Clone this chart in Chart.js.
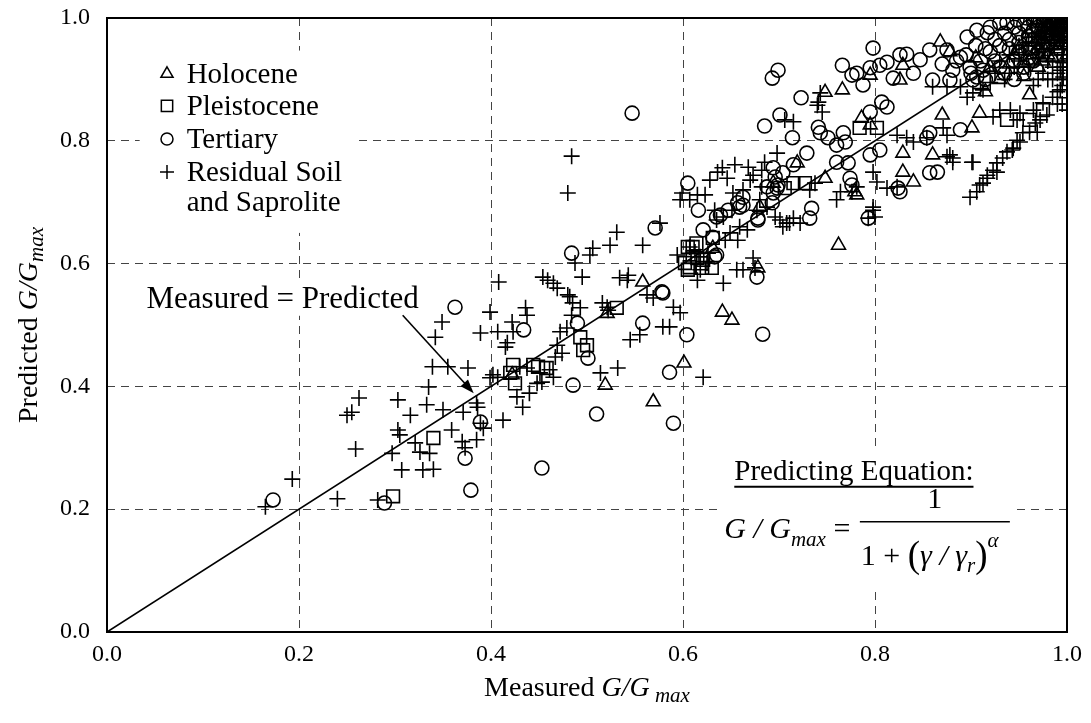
<!DOCTYPE html>
<html>
<head>
<meta charset="utf-8">
<script src="https://cdn.jsdelivr.net/npm/chart.js@4.4.1/dist/chart.umd.min.js"></script>
<style>
  html, body { margin: 0; padding: 0; background: #fff; }
  #wrap { width: 1091px; height: 723px; }
</style>
</head>
<body>
<div id="wrap"><canvas id="grafico" width="1091" height="723"></canvas></div>
<script>
// Dados (Measured G/Gmax, Predicted G/Gmax)

const ticksEixo = [0, 0.2, 0.4, 0.6, 0.8, 1.0];

const holocene = [
  [0.422, 0.419], [0.521, 0.519], [0.558, 0.57], [0.631, 0.625], [0.678, 0.593],
  [0.641, 0.521], [0.651, 0.508], [0.601, 0.438], [0.519, 0.402], [0.569, 0.375],
  [0.68, 0.692], [0.694, 0.731], [0.748, 0.879], [0.766, 0.883], [0.829, 0.923],
  [0.786, 0.837], [0.795, 0.826], [0.87, 0.842], [0.901, 0.821], [0.909, 0.845],
  [0.829, 0.78], [0.86, 0.777], [0.829, 0.749], [0.84, 0.733], [0.781, 0.712],
  [0.748, 0.739], [0.961, 0.875], [0.762, 0.63], [0.868, 0.961], [0.878, 0.945],
  [0.826, 0.899], [0.795, 0.907], [0.779, 0.717], [0.719, 0.764],
  [0.96, 0.93], [0.97, 0.95], [0.975, 0.965], [0.98, 0.97], [0.985, 0.98],
  [0.99, 0.985], [0.995, 0.99], [1.0, 0.995], [0.99, 0.97], [0.995, 0.96],
  [0.98, 0.94], [0.97, 0.92], [0.99, 0.95], [1.0, 0.975], [0.985, 0.955],
  [0.93, 0.9], [0.94, 0.925], [0.915, 0.88], [0.955, 0.905],
  [0.95, 0.95], [0.96, 0.975], [0.975, 0.985], [0.99, 1.0], [1.0, 0.985],
  [0.965, 0.94], [0.975, 0.93], [0.985, 0.935], [1.0, 0.94], [0.945, 0.94],
  [0.92, 0.92], [0.905, 0.935],
];

const pleistocene = [
  [0.298, 0.221], [0.34, 0.316], [0.423, 0.435], [0.42, 0.422], [0.425, 0.405],
  [0.444, 0.435], [0.449, 0.432], [0.458, 0.43], [0.493, 0.48], [0.5, 0.467],
  [0.496, 0.459], [0.531, 0.528], [0.615, 0.609], [0.61, 0.627], [0.607, 0.594],
  [0.62, 0.593], [0.63, 0.593], [0.605, 0.627], [0.614, 0.633], [0.61, 0.611],
  [0.602, 0.601], [0.621, 0.606], [0.631, 0.642], [0.605, 0.59],
  [0.784, 0.821], [0.802, 0.821], [0.715, 0.731], [0.727, 0.731], [0.706, 0.723],
  [0.9375, 0.834], [0.961, 0.834], [0.975, 0.85],
  [0.98, 0.96], [0.985, 0.975], [0.99, 0.98], [0.995, 0.985], [1.0, 1.0],
  [0.99, 0.995], [0.995, 1.0], [0.975, 0.97], [0.97, 0.965], [1.0, 0.97],
  [1.0, 0.96], [0.99, 0.95], [0.965, 0.95],
  [0.985, 0.99], [0.995, 0.975], [1.0, 0.985], [0.98, 0.98], [0.99, 0.965],
  [0.975, 0.955], [0.96, 0.965], [0.97, 0.98],
];

const tertiary = [
  [0.173, 0.215], [0.289, 0.21], [0.3625, 0.529], [0.373, 0.283], [0.389, 0.342],
  [0.379, 0.231], [0.434, 0.492], [0.453, 0.267], [0.484, 0.617], [0.49, 0.503],
  [0.501, 0.446], [0.4855, 0.402], [0.51, 0.355], [0.571, 0.658], [0.579, 0.552],
  [0.558, 0.503], [0.604, 0.484], [0.633, 0.611], [0.677, 0.578], [0.683, 0.485],
  [0.586, 0.423], [0.59, 0.34], [0.547, 0.845], [0.605, 0.731], [0.616, 0.687],
  [0.639, 0.679], [0.647, 0.687], [0.657, 0.699], [0.6625, 0.695], [0.694, 0.715],
  [0.698, 0.723], [0.693, 0.699], [0.6875, 0.725], [0.678, 0.671], [0.621, 0.655],
  [0.631, 0.643], [0.635, 0.614], [0.578, 0.554], [0.694, 0.756], [0.704, 0.748],
  [0.715, 0.761], [0.685, 0.824], [0.701, 0.842], [0.714, 0.805], [0.693, 0.902],
  [0.699, 0.915], [0.798, 0.951], [0.766, 0.923], [0.776, 0.907], [0.781, 0.91],
  [0.795, 0.919], [0.805, 0.923], [0.8125, 0.928], [0.833, 0.941], [0.7875, 0.891],
  [0.819, 0.902], [0.723, 0.87], [0.741, 0.822], [0.743, 0.813], [0.751, 0.805],
  [0.767, 0.813], [0.769, 0.798], [0.76, 0.793], [0.795, 0.847], [0.889, 0.818],
  [0.854, 0.805], [0.805, 0.785], [0.795, 0.777], [0.772, 0.764], [0.76, 0.765],
  [0.857, 0.748], [0.865, 0.749], [0.824, 0.723], [0.793, 0.674], [0.774, 0.739],
  [0.734, 0.69], [0.732, 0.674], [0.826, 0.94], [0.807, 0.863], [0.8125, 0.855],
  [0.857, 0.813], [0.826, 0.717], [0.729, 0.78], [0.696, 0.741], [0.699, 0.728],
  [0.776, 0.728], [0.659, 0.692], [0.635, 0.676], [0.6625, 0.708], [0.678, 0.674],
  [0.857, 0.948], [0.896, 0.969], [0.906, 0.98], [0.917, 0.976], [0.92, 0.985],
  [0.93, 0.992], [0.9375, 0.992], [0.948, 0.997], [0.958, 1.0], [0.965, 1.0],
  [0.875, 0.948], [0.889, 0.936], [0.899, 0.92], [0.881, 0.915], [0.906, 0.904],
  [0.9125, 0.915], [0.84, 0.91], [0.847, 0.932], [0.86, 0.899], [0.878, 0.899],
  [0.902, 0.899],
  [0.94, 0.95], [0.95, 0.96], [0.96, 0.97], [0.965, 0.98], [0.97, 0.985],
  [0.975, 0.99], [0.98, 0.995], [0.985, 0.99], [0.99, 1.0], [0.995, 0.995],
  [0.98, 0.975], [0.97, 0.96], [0.96, 0.95], [0.985, 0.97], [0.99, 0.985],
  [0.995, 0.975], [1.0, 0.99], [0.975, 0.94], [0.965, 0.93], [0.955, 0.92],
  [0.945, 0.93], [0.935, 0.91], [0.99, 0.96], [0.98, 0.95], [0.925, 0.93],
  [0.92, 0.945], [0.93, 0.955], [0.95, 0.975], [0.96, 0.985], [0.97, 0.995],
  [0.985, 1.0],
  [0.91, 0.93], [0.915, 0.95], [0.925, 0.965], [0.935, 0.975], [0.945, 0.985],
  [0.955, 0.99], [0.965, 0.995], [0.975, 1.0], [0.94, 0.965], [0.95, 0.945],
  [0.96, 0.935], [0.97, 0.945], [0.975, 0.955], [0.985, 0.96], [0.99, 0.975],
  [1.0, 0.97], [1.0, 1.0], [0.995, 0.985], [0.905, 0.955], [0.895, 0.94],
  [0.885, 0.93], [0.87, 0.925], [0.9, 0.91], [0.915, 0.9], [0.93, 0.92],
  [0.945, 0.9], [0.955, 0.91], [0.965, 0.965], [0.98, 0.985], [0.99, 0.99],
];

const residual = [
  [0.165, 0.204], [0.193, 0.249], [0.24, 0.217], [0.282, 0.215], [0.259, 0.298],
  [0.25, 0.353], [0.255, 0.358], [0.2625, 0.381], [0.297, 0.291], [0.303, 0.329],
  [0.305, 0.321], [0.303, 0.378], [0.307, 0.264], [0.316, 0.353], [0.321, 0.308],
  [0.326, 0.293], [0.329, 0.264], [0.333, 0.37], [0.335, 0.399], [0.336, 0.291],
  [0.34, 0.265], [0.339, 0.432], [0.342, 0.48], [0.349, 0.505], [0.35, 0.362],
  [0.355, 0.432], [0.359, 0.329], [0.37, 0.31], [0.371, 0.358], [0.373, 0.3],
  [0.376, 0.43], [0.385, 0.313], [0.385, 0.373], [0.386, 0.366], [0.389, 0.34],
  [0.392, 0.332], [0.389, 0.487], [0.399, 0.521], [0.407, 0.489], [0.408, 0.57],
  [0.402, 0.419], [0.407, 0.415], [0.399, 0.414], [0.4125, 0.345], [0.422, 0.505],
  [0.423, 0.489], [0.417, 0.471], [0.436, 0.528], [0.4375, 0.516], [0.43, 0.432],
  [0.4375, 0.43], [0.451, 0.422], [0.461, 0.427], [0.465, 0.415], [0.427, 0.383],
  [0.433, 0.366], [0.44, 0.389], [0.448, 0.405], [0.453, 0.407], [0.467, 0.448],
  [0.474, 0.454], [0.472, 0.489], [0.479, 0.495], [0.484, 0.516], [0.485, 0.536],
  [0.482, 0.546], [0.465, 0.568], [0.459, 0.573], [0.454, 0.578], [0.495, 0.578],
  [0.503, 0.614], [0.48, 0.715], [0.484, 0.775], [0.576, 0.666], [0.531, 0.651],
  [0.524, 0.63], [0.506, 0.625], [0.558, 0.63], [0.4875, 0.601], [0.469, 0.56],
  [0.48, 0.549], [0.493, 0.528], [0.415, 0.464], [0.469, 0.467], [0.516, 0.536],
  [0.521, 0.529], [0.522, 0.524], [0.542, 0.573], [0.534, 0.577], [0.543, 0.581],
  [0.5625, 0.549], [0.569, 0.544], [0.59, 0.529], [0.597, 0.52], [0.579, 0.497],
  [0.586, 0.497], [0.555, 0.484], [0.545, 0.476], [0.621, 0.415], [0.532, 0.43],
  [0.514, 0.422], [0.641, 0.756], [0.636, 0.749], [0.654, 0.761], [0.646, 0.739],
  [0.628, 0.736], [0.599, 0.715], [0.597, 0.704], [0.615, 0.712], [0.623, 0.712],
  [0.607, 0.704], [0.652, 0.715], [0.6625, 0.72], [0.67, 0.736], [0.673, 0.744],
  [0.682, 0.725], [0.633, 0.687], [0.635, 0.671], [0.642, 0.676], [0.651, 0.687],
  [0.68, 0.704], [0.677, 0.687], [0.6875, 0.692], [0.701, 0.671], [0.704, 0.66],
  [0.711, 0.666], [0.696, 0.676], [0.659, 0.66], [0.667, 0.655], [0.649, 0.65],
  [0.644, 0.638], [0.657, 0.638], [0.607, 0.627], [0.594, 0.614], [0.6125, 0.619],
  [0.618, 0.611], [0.626, 0.617], [0.618, 0.59], [0.625, 0.601], [0.642, 0.568],
  [0.615, 0.573], [0.656, 0.59], [0.6625, 0.59], [0.673, 0.609], [0.675, 0.593],
  [0.706, 0.834], [0.715, 0.831], [0.698, 0.78], [0.685, 0.765], [0.743, 0.878],
  [0.74, 0.858], [0.745, 0.847], [0.668, 0.757], [0.682, 0.752], [0.741, 0.863],
  [0.732, 0.72], [0.7375, 0.731], [0.76, 0.704], [0.764, 0.717], [0.781, 0.725],
  [0.776, 0.717], [0.798, 0.687], [0.8, 0.676], [0.708, 0.666], [0.715, 0.674],
  [0.722, 0.666],
  [0.871, 0.821], [0.875, 0.809], [0.854, 0.805], [0.84, 0.798], [0.833, 0.805],
  [0.823, 0.809], [0.878, 0.777], [0.881, 0.765], [0.902, 0.765], [0.798, 0.749],
  [0.802, 0.733], [0.8125, 0.723], [0.823, 0.725], [0.798, 0.692], [0.793, 0.674],
  [0.86, 0.888], [0.875, 0.888], [0.889, 0.888], [0.896, 0.871], [0.902, 0.878],
  [0.9125, 0.883], [0.923, 0.839], [0.93, 0.85], [0.941, 0.85], [0.948, 0.834],
  [0.951, 0.845], [0.965, 0.85], [0.975, 0.862], [0.985, 0.871], [0.993, 0.883],
  [0.996, 0.904], [0.996, 0.927], [0.993, 0.915],
  [0.899, 0.708], [0.909, 0.728], [0.917, 0.744], [0.927, 0.749], [0.933, 0.772],
  [0.9375, 0.782], [0.944, 0.788], [0.951, 0.798], [0.961, 0.814], [0.969, 0.814],
  [0.979, 0.842], [0.906, 0.717], [0.9125, 0.731], [0.923, 0.752], [0.927, 0.764],
  [0.943, 0.785], [0.948, 0.801], [0.954, 0.813], [0.967, 0.829], [0.972, 0.834],
  [0.901, 0.765], [0.917, 0.739], [0.881, 0.772], [0.875, 0.774],
  [0.99, 0.93], [0.995, 0.94], [1.0, 0.95], [0.985, 0.92], [0.99, 0.91],
  [1.0, 0.9], [0.995, 0.89], [0.99, 0.88], [1.0, 0.92], [0.98, 0.9],
  [0.975, 0.91], [0.97, 0.9], [0.965, 0.89], [0.995, 0.97], [1.0, 0.98],
  [0.99, 0.99], [0.98, 0.985], [0.975, 0.975], [0.96, 0.96], [0.955, 0.94],
  [0.95, 0.93], [0.945, 0.92], [0.94, 0.91], [0.935, 0.9],
  [1.0, 0.93], [1.0, 0.96], [1.0, 0.99], [0.995, 0.95], [0.995, 0.92],
  [0.995, 0.9], [1.0, 0.87], [0.995, 0.86], [1.0, 0.85], [0.99, 0.86],
  [0.985, 0.9], [0.98, 0.93], [0.975, 0.95], [0.97, 0.935], [0.96, 0.92],
  [0.985, 0.995], [0.99, 0.97], [0.97, 0.97], [0.95, 0.955], [0.94, 0.94],
  [0.93, 0.93], [0.925, 0.91], [0.92, 0.895], [0.91, 0.885],
];

// Linha Measured = Predicted
const linhaIgual = [[0, 0], [1, 1]];

const FONTE = "'Liberation Serif', 'Times New Roman', serif";

function paraPontos(lista) {
  return lista.map((p) => ({ x: p[0], y: p[1] }));
}

// desenha pedaços de texto com fontes diferentes numa linha
function desenharTrechos(ctx, trechos, x, y, alinhar) {
  let total = 0;
  trechos.forEach((t) => {
    ctx.font = `${t.estilo || "normal"} ${t.tam}px ${FONTE}`;
    t.w = ctx.measureText(t.txt).width;
    total += t.w;
  });
  let cx = alinhar == "center" ? x - total / 2 : x;
  ctx.textAlign = "left";
  ctx.textBaseline = "alphabetic";
  trechos.forEach((t) => {
    ctx.font = `${t.estilo || "normal"} ${t.tam}px ${FONTE}`;
    ctx.fillText(t.txt, cx, y + (t.dy || 0));
    cx += t.w;
  });
  return total;
}

const anotacoes = {
  id: "anotacoes",
  beforeDatasetsDraw(chart) {
    const { ctx, scales } = chart;
    const sx = scales.x, sy = scales.y;
    ctx.save();
    ctx.fillStyle = "#fff";
    // caixas brancas atrás dos textos (cortam a grade)
    const caixas = [
      [0.034, 0.947, 0.258, 0.65],
      [0.04, 0.57, 0.325, 0.515],
      [0.636, 0.3, 0.943, 0.07],
    ];
    caixas.forEach((c) => {
      const x1 = sx.getPixelForValue(c[0]);
      const y1 = sy.getPixelForValue(c[1]);
      const x2 = sx.getPixelForValue(c[2]);
      const y2 = sy.getPixelForValue(c[3]);
      ctx.fillRect(x1, y1, x2 - x1, y2 - y1);
    });
    ctx.restore();
  },
  afterDatasetsDraw(chart) {
    const { ctx, chartArea, scales } = chart;
    const sx = scales.x, sy = scales.y;
    ctx.save();
    ctx.fillStyle = "#000";
    ctx.strokeStyle = "#000";

    // moldura
    ctx.lineWidth = 2;
    ctx.strokeRect(chartArea.left, chartArea.top, chartArea.right - chartArea.left, chartArea.bottom - chartArea.top);

    // legenda
    const legenda = [
      ["triangle", "Holocene", 0.909, 7],
      ["rect", "Pleistocene", 0.857, 8],
      ["circle", "Tertiary", 0.803, 6],
      ["cross", "Residual Soil", 0.749, 7],
    ];
    const lx = sx.getPixelForValue(0.0625);
    const tx = sx.getPixelForValue(0.083);
    legenda.forEach((l) => {
      const ly = sy.getPixelForValue(l[2]);
      ctx.save();
      ctx.fillStyle = "rgba(0,0,0,0)";
      ctx.lineWidth = 1.5;
      Chart.helpers.drawPoint(ctx, { pointStyle: l[0], radius: l[3], rotation: 0, borderWidth: 1.5 }, lx, ly);
      ctx.restore();
      ctx.font = `29px ${FONTE}`;
      ctx.textAlign = "left";
      ctx.textBaseline = "alphabetic";
      ctx.fillText(l[1], tx, ly + 9);
    });
    ctx.fillText("and Saprolite", tx, sy.getPixelForValue(0.7) + 9);

    // rótulo e seta
    ctx.font = `31px ${FONTE}`;
    ctx.textAlign = "center";
    ctx.fillText("Measured = Predicted", sx.getPixelForValue(0.183), sy.getPixelForValue(0.528));
    const ax1 = sx.getPixelForValue(0.308), ay1 = sy.getPixelForValue(0.516);
    const ax2 = sx.getPixelForValue(0.382), ay2 = sy.getPixelForValue(0.389);
    const ang = Math.atan2(ay2 - ay1, ax2 - ax1);
    ctx.lineWidth = 1.6;
    ctx.beginPath();
    ctx.moveTo(ax1, ay1);
    ctx.lineTo(ax2 - 10 * Math.cos(ang), ay2 - 10 * Math.sin(ang));
    ctx.stroke();
    ctx.beginPath();
    ctx.moveTo(ax2, ay2);
    ctx.lineTo(ax2 - 14 * Math.cos(ang) + 5 * Math.sin(ang), ay2 - 14 * Math.sin(ang) - 5 * Math.cos(ang));
    ctx.lineTo(ax2 - 14 * Math.cos(ang) - 5 * Math.sin(ang), ay2 - 14 * Math.sin(ang) + 5 * Math.cos(ang));
    ctx.closePath();
    ctx.fill();

    // equação
    const ex = sx.getPixelForValue(0.643);
    const ey = sy.getPixelForValue(0.248);
    ctx.font = `29px ${FONTE}`;
    ctx.textAlign = "left";
    ctx.fillText("Predicting Equation:", ex + 10, ey);
    const wTit = ctx.measureText("Predicting Equation:").width;
    ctx.lineWidth = 2;
    ctx.beginPath();
    ctx.moveTo(ex + 10, ey + 7);
    ctx.lineTo(ex + 10 + wTit, ey + 7);
    ctx.stroke();

    const eqy = ey + 58;
    let w = desenharTrechos(ctx, [
      { txt: "G / G", estilo: "italic", tam: 30 },
      { txt: "max", estilo: "italic", tam: 21, dy: 8 },
      { txt: " = ", tam: 30 },
    ], ex, eqy, "left");
    const fx1 = ex + w + 2;
    const fx2 = fx1 + 150;
    ctx.lineWidth = 1.5;
    ctx.beginPath();
    ctx.moveTo(fx1, eqy - 16);
    ctx.lineTo(fx2, eqy - 16);
    ctx.stroke();
    desenharTrechos(ctx, [{ txt: "1", tam: 30 }], (fx1 + fx2) / 2, eqy - 30, "center");
    desenharTrechos(ctx, [
      { txt: "1 + ", tam: 30 },
      { txt: "(", tam: 37, dy: 2 },
      { txt: "γ / γ", estilo: "italic", tam: 30 },
      { txt: "r", estilo: "italic", tam: 21, dy: 7 },
      { txt: ")", tam: 37, dy: 2 },
      { txt: "α", estilo: "italic", tam: 21, dy: -18 },
    ], fx1 + 1, eqy + 27, "left");

    ctx.restore();
  },
  afterDraw(chart) {
    const { ctx, chartArea } = chart;
    ctx.save();
    ctx.fillStyle = "#000";
    // título eixo x
    desenharTrechos(ctx, [
      { txt: "Measured ", tam: 28 },
      { txt: "G/G", estilo: "italic", tam: 28 },
      { txt: " max", estilo: "italic", tam: 21, dy: 6 },
    ], (chartArea.left + chartArea.right) / 2, chartArea.bottom + 64, "center");
    // título eixo y
    ctx.translate(37, (chartArea.top + chartArea.bottom) / 2);
    ctx.rotate(-Math.PI / 2);
    desenharTrechos(ctx, [
      { txt: "Predicted ", tam: 28 },
      { txt: "G/G", estilo: "italic", tam: 28 },
      { txt: "max", estilo: "italic", tam: 21, dy: 6 },
    ], 0, 0, "center");
    ctx.restore();
  },
};

const serieBase = {
  backgroundColor: "rgba(0,0,0,0)",
  borderColor: "#000",
  pointBorderWidth: 1.6,
  pointHoverRadius: 7,
};

const escala = {
  type: "linear",
  min: 0,
  max: 1,
  afterBuildTicks: (s) => {
    s.ticks = ticksEixo.map((v) => ({ value: v }));
  },
  ticks: {
    color: "#000",
    font: { family: FONTE, size: 24 },
    callback: (v) => Number(v).toFixed(1),
  },
  grid: { color: "#444", lineWidth: 1, drawTicks: false },
  border: { display: false, dash: [8, 6] },
};

new Chart(document.getElementById("grafico"), {
  type: "scatter",
  data: {
    datasets: [
      { ...serieBase, label: "Holocene", data: paraPontos(holocene), pointStyle: "triangle", pointRadius: 8, order: 4 },
      { ...serieBase, label: "Pleistocene", data: paraPontos(pleistocene), pointStyle: "rect", pointRadius: 9, order: 3 },
      { ...serieBase, label: "Tertiary", data: paraPontos(tertiary), pointStyle: "circle", pointRadius: 7, order: 2 },
      { ...serieBase, label: "Residual Soil and Saprolite", data: paraPontos(residual), pointStyle: "cross", pointRadius: 8, order: 1 },
      {
        label: "Measured = Predicted",
        data: paraPontos(linhaIgual),
        showLine: true,
        borderColor: "#000",
        borderWidth: 1.6,
        pointRadius: 0,
        order: 10,
      },
    ],
  },
  options: {
    responsive: false,
    animation: false,
    devicePixelRatio: 1,
    layout: { padding: { top: 18, right: 24, left: 0, bottom: 0 } },
    scales: {
      x: {
        ...escala,
        ticks: { ...escala.ticks, padding: 8 },
        afterFit: (s) => {
          s.height = 91;
          s.paddingLeft = 0;
          s.paddingRight = 0;
        },
      },
      y: {
        ...escala,
        ticks: { ...escala.ticks, padding: 17 },
        afterFit: (s) => {
          s.width = 107;
          s.paddingTop = 0;
          s.paddingBottom = 0;
        },
      },
    },
    plugins: {
      legend: { display: false },
      tooltip: { enabled: false },
    },
  },
  plugins: [anotacoes],
});
</script>
</body>
</html>
